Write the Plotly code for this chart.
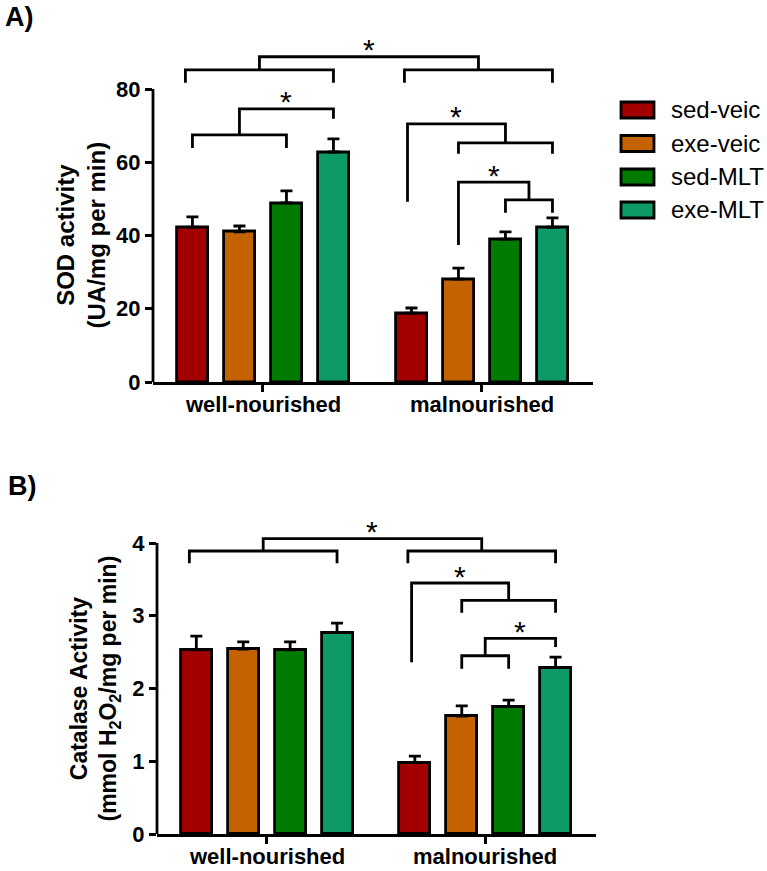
import plotly.graph_objects as go

W, H = 767, 871

# ---------------- data ----------------
groups = ["well-nourished", "malnourished"]
series = ["sed-veic", "exe-veic", "sed-MLT", "exe-MLT"]
colors = ["#A20000", "#C46200", "#007A00", "#0E9A66"]

# Panel A: SOD activity (UA/mg per min)
sod_well = [42.3, 41.0, 48.9, 62.8]
sod_well_sem = [2.8, 1.6, 3.3, 3.6]
sod_mal = [18.8, 28.1, 39.0, 42.3]
sod_mal_sem = [1.4, 3.0, 2.0, 2.5]

# Panel B: Catalase activity (mmol H2O2/mg per min)
cat_well = [2.53, 2.54, 2.53, 2.77]
cat_well_sem = [0.19, 0.10, 0.11, 0.13]
cat_mal = [0.98, 1.62, 1.75, 2.29]
cat_mal_sem = [0.09, 0.14, 0.09, 0.14]

sod_ticks = [0, 20, 40, 60, 80]
cat_ticks = [0, 1, 2, 3, 4]

# ---------------- layout helpers ----------------
STEP = 47 / 219.0      # bar spacing in category units
BARW = 31 / 219.0      # bar width in category units
XR = [-0.502, 1.507]


def px(x):
    return x / W


def py(y):
    return 1 - y / H


def bx(g, s):
    return g + (s - 1.5) * STEP


fig = go.Figure()

panels = [
    dict(xa="x", ya="y", well=sod_well, wsem=sod_well_sem, mal=sod_mal, msem=sod_mal_sem,
         ticks=sod_ticks, rng=[0, 96], xdom=[px(153), px(593)], ydom=[py(382), py(382 - 96 * 3.6625)],
         label_y=405),
    dict(xa="x2", ya="y2", well=cat_well, wsem=cat_well_sem, mal=cat_mal, msem=cat_mal_sem,
         ticks=cat_ticks, rng=[0, 4.4], xdom=[px(157), px(596)], ydom=[py(834), py(834 - 4.4 * 72.75)],
         label_y=856),
]

for p in panels:
    for s, name in enumerate(series):
        fig.add_trace(go.Bar(
            x=[bx(0, s), bx(1, s)],
            y=[p["well"][s], p["mal"][s]],
            width=BARW,
            marker=dict(color=colors[s], line=dict(color="black", width=2.8)),
            error_y=dict(type="data", symmetric=False,
                         array=[p["wsem"][s], p["msem"][s]], arrayminus=[0, 0],
                         color="black", thickness=2.8, width=6),
            name=name, showlegend=False,
            xaxis=p["xa"], yaxis=p["ya"],
        ))

shapes = []
annotations = []
LW = 2.8
bold = dict(family="Liberation Sans", color="black", weight="bold")

# category labels under each panel
for p in panels:
    for g, gname in enumerate(groups):
        annotations.append(dict(x=g, y=py(p["label_y"]), xref=p["xa"], yref="paper", text=gname,
                                showarrow=False, xanchor="center", yanchor="middle",
                                font=dict(size=22, **bold)))


def path_shape(pts, xa, ya):
    d = "M " + " L ".join(f"{x},{y}" for x, y in pts)
    shapes.append(dict(type="path", path=d, xref=xa, yref=ya,
                       line=dict(color="black", width=LW)))


def bracket(xa, ya, x1, x2, y, leg):
    path_shape([(x1, y - leg), (x1, y), (x2, y), (x2, y - leg)], xa, ya)
    return (x1 + x2) / 2


def connector(xa, ya, a, b, y, a_end, b_end):
    path_shape([(a, a_end), (a, y), (b, y), (b, b_end)], xa, ya)
    annotations.append(dict(x=(a + b) / 2, y=y, xref=xa, yref=ya, text="*",
                            showarrow=False, yanchor="middle", yshift=7,
                            font=dict(family="Liberation Sans", size=30, color="black")))


# Panel A brackets
m1 = bracket("x", "y", bx(0, 0) - 0.032, bx(0, 3), 85.2, 3.5)
m2 = bracket("x", "y", bx(1, 0) - 0.032, bx(1, 3), 85.2, 3.5)
connector("x", "y", m1, m2, 88.8, 85.2, 85.2)
m = bracket("x", "y", bx(0, 0), bx(0, 2), 67.5, 3.6)
connector("x", "y", m, bx(0, 3), 74.6, 67.5, 71.9)
m = bracket("x", "y", bx(1, 1), bx(1, 3), 65.3, 3.0)
connector("x", "y", bx(1, 0) - 0.018, m, 70.5, 49.2, 65.3)
m = bracket("x", "y", bx(1, 2), bx(1, 3), 49.7, 3.5)
connector("x", "y", bx(1, 1), m, 54.6, 37.4, 49.7)

# Panel B brackets
m1 = bracket("x2", "y2", bx(0, 0) - 0.032, bx(0, 3), 3.89, 0.17)
m2 = bracket("x2", "y2", bx(1, 0) - 0.032, bx(1, 3), 3.89, 0.17)
connector("x2", "y2", m1, m2, 4.06, 3.89, 3.89)
m = bracket("x2", "y2", bx(1, 1), bx(1, 3), 3.21, 0.17)
connector("x2", "y2", bx(1, 0) - 0.015, m, 3.45, 2.36, 3.21)
m = bracket("x2", "y2", bx(1, 1), bx(1, 2), 2.45, 0.18)
connector("x2", "y2", m, bx(1, 3), 2.69, 2.45, 2.57)

# y axis lines only up to the top tick
shapes.append(dict(type="line", xref="x domain", yref="y", x0=0, x1=0, y0=0, y1=sod_ticks[-1],
                   line=dict(color="black", width=LW)))
shapes.append(dict(type="line", xref="x2 domain", yref="y2", x0=0, x1=0, y0=0, y1=cat_ticks[-1],
                   line=dict(color="black", width=LW)))

# Legend (drawn manually)
leg_rows = [110, 143.5, 177, 210]
for s, name in enumerate(series):
    yc = leg_rows[s]
    shapes.append(dict(type="rect", xref="paper", yref="paper",
                       x0=px(621), x1=px(654), y0=py(yc + 8), y1=py(yc - 8),
                       fillcolor=colors[s], line=dict(color="black", width=LW)))
    annotations.append(dict(x=px(669), y=py(yc), xref="paper", yref="paper", text=name,
                            showarrow=False, xanchor="left", yanchor="middle",
                            font=dict(family="Liberation Sans", size=24, color="black")))

# Panel labels and axis titles
annotations.append(dict(x=px(3), y=py(17), xref="paper", yref="paper", text="A)", showarrow=False,
                        xanchor="left", yanchor="middle", font=dict(size=27, **bold)))
annotations.append(dict(x=px(6), y=py(486), xref="paper", yref="paper", text="B)", showarrow=False,
                        xanchor="left", yanchor="middle", font=dict(size=27, **bold)))
annotations.append(dict(x=px(80), y=py(235.5), xref="paper", yref="paper",
                        text="SOD activity<br>(UA/mg per min)", textangle=-90, showarrow=False,
                        xanchor="center", yanchor="middle", font=dict(size=24, **bold)))
annotations.append(dict(x=px(95), y=py(688.5), xref="paper", yref="paper",
                        text="Catalase Activity<br>(mmol H<sub>2</sub>O<sub>2</sub>/mg per min)",
                        textangle=-90, showarrow=False,
                        xanchor="center", yanchor="middle", font=dict(size=23, **bold)))

xcommon = dict(range=XR, tickvals=[0, 1], showticklabels=False, showline=True, linewidth=LW,
               linecolor="black", ticks="outside", ticklen=7, tickwidth=LW, tickcolor="black",
               showgrid=False, zeroline=False, fixedrange=True, automargin=False)
ycommon = dict(showline=False, ticks="outside", ticklen=7, tickwidth=LW, tickcolor="black",
               showgrid=False, zeroline=False, tickfont=dict(size=22, **bold), fixedrange=True,
               automargin=False)

fig.update_layout(
    width=W, height=H, autosize=False,
    margin=dict(l=0, r=0, t=0, b=0, pad=0, autoexpand=False),
    paper_bgcolor="white", plot_bgcolor="white",
    showlegend=False,
    xaxis=dict(domain=panels[0]["xdom"], anchor="y", **xcommon),
    yaxis=dict(domain=panels[0]["ydom"], anchor="x", range=panels[0]["rng"],
               tickvals=sod_ticks, **ycommon),
    xaxis2=dict(domain=panels[1]["xdom"], anchor="y2", **xcommon),
    yaxis2=dict(domain=panels[1]["ydom"], anchor="x2", range=panels[1]["rng"],
                tickvals=cat_ticks, **ycommon),
    shapes=shapes,
    annotations=annotations,
    bargap=0,
)

fig.write_html("out.html")
